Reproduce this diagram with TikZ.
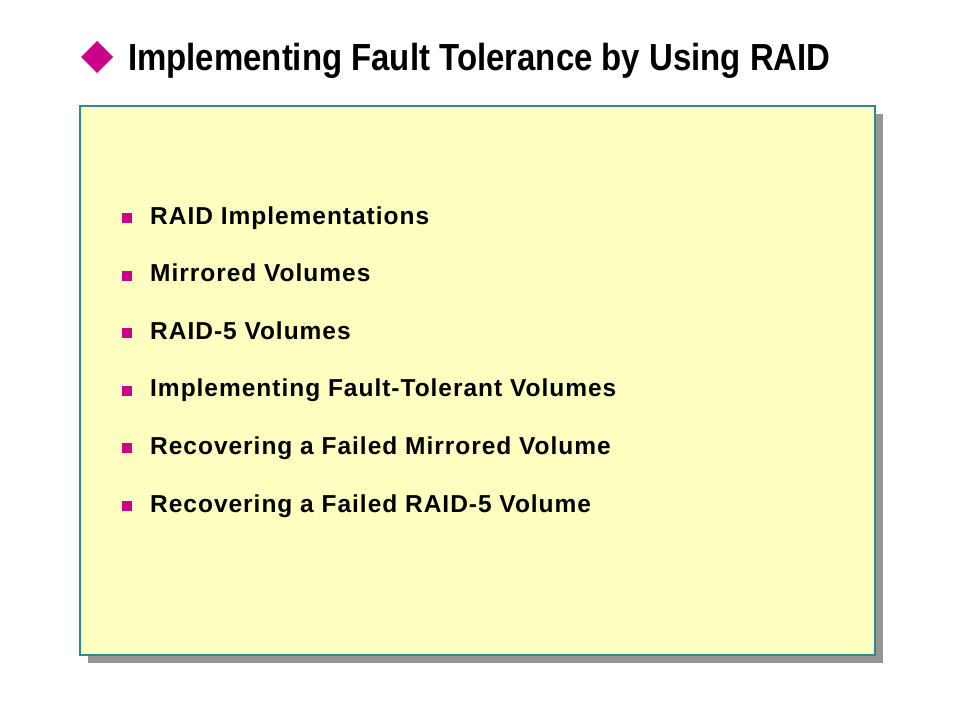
\documentclass[tikz,border=0pt]{standalone}
\usepackage{fontspec}
\setmainfont{Liberation Sans}
\newfontfamily\titlefont[FakeStretch=0.874]{Liberation Sans}
\newfontfamily\itemfont[LetterSpace=4]{Liberation Sans}
\usetikzlibrary{calc}
\definecolor{slidemagenta}{RGB}{204,0,136}
\definecolor{slideyellow}{RGB}{255,255,192}
\definecolor{slideteal}{RGB}{46,139,139}
\definecolor{slideshadow}{RGB}{150,150,150}
\newcommand{\itemgap}{57.6}
\newcommand{\slidebul}[3]{\fill[slidemagenta] ($(#1)+(-28,-11)+(0,\itemgap*#2)$) rectangle ++(10,10);
	\node[itemtext] (item#2) at ($(#1)+(0,\itemgap*#2)$) {#3};}
\tikzset{
	titletext/.style={anchor=base west,inner sep=0pt,font=\titlefont\bfseries\fontsize{37.7}{40}\selectfont},
	itemtext/.style={anchor=base west,inner sep=0pt,font=\itemfont\bfseries\fontsize{24.5}{26}\selectfont},
	panel/.style={fill=slideyellow,draw=slideteal,line width=1.2pt}
}

\begin{document}
\begin{tikzpicture}[x=1pt,y=-1pt]
	\useasboundingbox[fill=white] (0,0) rectangle (960,720);
	\coordinate (O) at (150,224);
	
	% title
	\fill[slidemagenta] (81,57) -- (97,41) -- (113,57) -- (97,73) -- cycle;
	\node[titletext] (title) at (128,70) {Implementing Fault Tolerance by Using RAID};
	
	% panel with shadow
	\fill[slideshadow] (88,114) rectangle (883,663);
	\draw[panel] (80,106) rectangle (875,655);
	
	\slidebul{O}{0}{RAID Implementations}
	\slidebul{O}{1}{Mirrored Volumes}
	\slidebul{O}{2}{RAID-5 Volumes}
	\slidebul{O}{3}{Implementing Fault-Tolerant Volumes}
	\slidebul{O}{4}{Recovering a Failed Mirrored Volume}
	\slidebul{O}{5}{Recovering a Failed RAID-5 Volume}
\end{tikzpicture}
\end{document}
